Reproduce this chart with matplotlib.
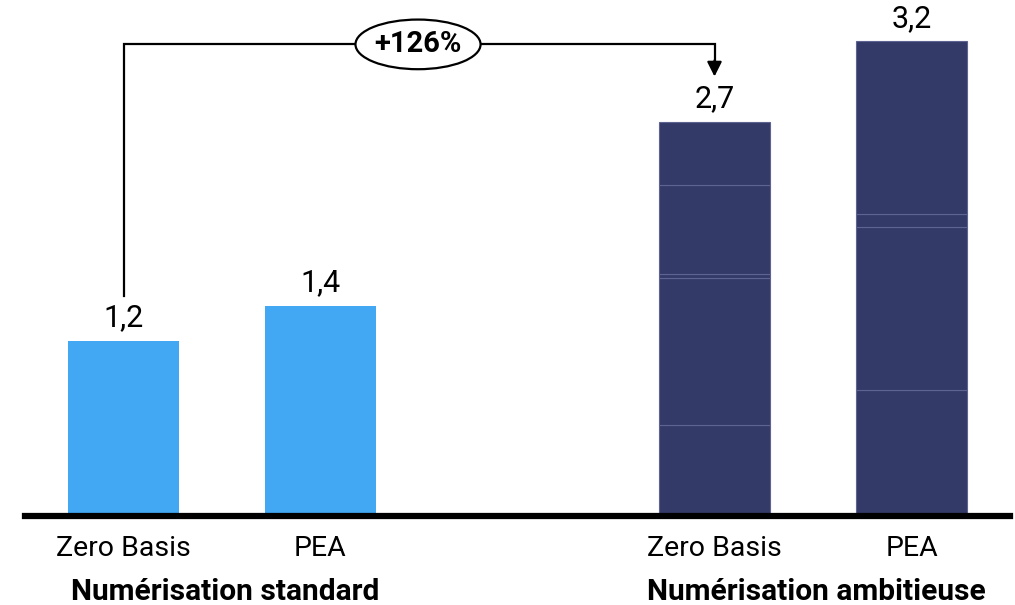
"""
bar chart: numerisation standard vs ambitieuse
"""
import numpy as np
import matplotlib.pyplot as plt
from matplotlib.patches import Ellipse

plt.rcParams['font.family'] = ['Roboto', 'DejaVu Sans']

scenarios = ['Zero Basis', 'PEA', 'Zero Basis', 'PEA']
groups = ['Numérisation standard', 'Numérisation ambitieuse']
standard = [1.2, 1.44]
total_labels = ['1,2', '1,4', '2,7', '3,2']
# stacked pieces of the ambitious bars, bottom to top
segs_zero = [0.62, 1.01, 0.03, 0.61, 0.43]
segs_pea = [0.86, 1.12, 0.09, 1.18]
growth_label = '+126%'

light = '#42A8F4'
dark = '#333A67'
sep = '#5D6492'

xpos = np.array([0, 1, 3, 4])
width = 0.56
totals = standard + [sum(segs_zero), sum(segs_pea)]

fig = plt.figure(figsize=(10.15, 6.05), dpi=100)
ax = fig.add_axes([25 / 1015, 89 / 605, 985 / 1015, 516 / 605])

ax.bar(xpos[:2], standard, width, color=light)
for x, segs in zip(xpos[2:], [segs_zero, segs_pea]):
    bottom = 0
    for s in segs:
        ax.bar(x, s, width, bottom=bottom, color=dark,
               edgecolor=sep, linewidth=0.8)
        bottom += s

for x, t, lab in zip(xpos, totals, total_labels):
    ax.annotate(lab, (x, t), xytext=(0, 6), textcoords='offset points',
                ha='center', va='bottom', fontsize=22)

ax.set_xlim(-0.5, 4.5)
ax.set_ylim(0, 3.534)
for s in ['top', 'right', 'left']:
    ax.spines[s].set_visible(False)
ax.spines['bottom'].set_linewidth(4.5)
ax.set_yticks([])
ax.set_xticks(xpos)
ax.set_xticklabels(scenarios, fontsize=20.5)
ax.tick_params(axis='x', length=0, pad=14)

for i, g in enumerate(groups):
    ax.text(xpos[2 * i:2 * i + 2].mean() + 0.015, -0.52, g, ha='center',
            va='center', fontsize=21.5, fontweight='bold')

# growth bracket
y_top = 3.23
ax.plot([xpos[0], xpos[0], xpos[2], xpos[2]],
        [1.51, y_top, y_top, 3.08], color='black', lw=1.6,
        clip_on=False, solid_joinstyle='miter')
ax.annotate('', xy=(xpos[2], 3.01), xytext=(xpos[2], 3.12),
            arrowprops=dict(arrowstyle='-|>', color='black', lw=1.6,
                            mutation_scale=22, shrinkA=0, shrinkB=0))
ex = 1.495
ax.add_patch(Ellipse((ex, y_top), 0.635, 0.34, facecolor='white',
                     edgecolor='black', lw=1.6, clip_on=False, zorder=3))
ax.text(ex, y_top, growth_label, ha='center', va='center', fontsize=21,
        fontweight='bold', zorder=4)

fig.savefig('out.png', dpi=100)
